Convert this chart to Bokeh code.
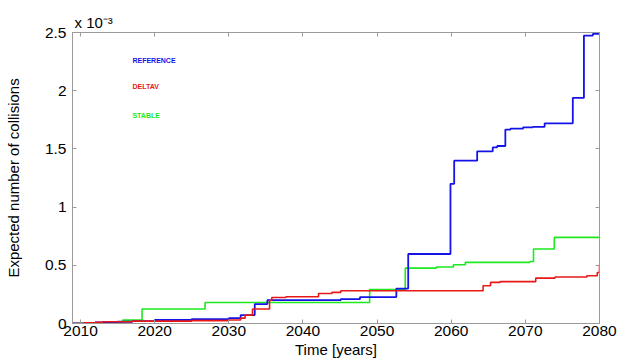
from bokeh.plotting import figure
from bokeh.models import LinearAxis, Label, FixedTicker, Range1d
from bokeh.embed import file_html
from bokeh.resources import INLINE

# ---- data (values in units of 1e-3) ----
ref_years = [2008.9, 2012.0, 2015.0, 2017.0, 2020.0, 2025.0, 2030.0, 2031.6, 2033.5, 2035.2,
             2045.1, 2047.7, 2052.6, 2054.2, 2059.9, 2060.4, 2063.5, 2065.6, 2066.2, 2067.3,
             2068.0, 2069.7, 2071.0, 2072.6, 2076.4, 2077.9, 2079.1, 2080.0]
ref_vals = [0.0, 0.01, 0.015, 0.02, 0.03, 0.038, 0.046, 0.072, 0.167, 0.20,
            0.21, 0.227, 0.30, 0.597, 1.20, 1.399, 1.479, 1.513, 1.525, 1.666,
            1.675, 1.685, 1.69, 1.72, 1.938, 2.474, 2.488, 2.49]

dv_years = [2008.9, 2010.5, 2012.0, 2013.0, 2017.0, 2025.0, 2030.0, 2031.6, 2032.2, 2033.2,
            2035.5, 2035.8, 2037.7, 2042.1, 2043.9, 2045.1, 2064.3, 2065.3, 2066.6, 2071.4,
            2074.0, 2078.3, 2079.7, 2080.0]
dv_vals = [0.0, 0.005, 0.01, 0.015, 0.02, 0.025, 0.03, 0.046, 0.072, 0.124,
           0.20, 0.224, 0.23, 0.258, 0.267, 0.281, 0.324, 0.353, 0.36, 0.39,
           0.40, 0.41, 0.438, 0.505]

st_years = [2008.9, 2012.0, 2013.0, 2015.7, 2018.3, 2026.8, 2049.0, 2053.8, 2058.0, 2060.3,
            2061.9, 2070.6, 2071.1, 2073.9, 2080.0]
st_vals = [0.0, 0.005, 0.01, 0.029, 0.124, 0.18, 0.292, 0.476, 0.485, 0.505,
           0.525, 0.533, 0.64, 0.74, 0.745]

x_ticks = [2010, 2020, 2030, 2040, 2050, 2060, 2070, 2080]
y_ticks = [0, 0.5, 1, 1.5, 2, 2.5]
y_tick_labels = ["0", "0.5", "1", "1.5", "2", "2.5"]
legend_names = ["REFERENCE", "DELTAV", "STABLE"]

BLUE = "#1414e8"
RED = "#e81818"
GREEN = "#1ee81e"
FRAME = "#9a9a9a"
FONT = "Liberation Sans"

p = figure(width=626, height=360, output_backend="svg", toolbar_location=None,
           x_range=Range1d(2008.92, 2080), y_range=Range1d(0, 2.5),
           min_border_left=72, min_border_right=27, min_border_top=32, min_border_bottom=37)
p.outline_line_color = FRAME
p.outline_line_width = 1
p.grid.visible = False
p.background_fill_color = "white"
p.border_fill_color = "white"

p.title.text = "x 10\u207b\u00b3"
p.title.align = "left"
p.title.offset = 2
p.title.text_font = FONT
p.title.text_font_size = "15px"
p.title.text_font_style = "normal"
p.title.text_color = "black"
p.title.standoff = 4

p.step(st_years, st_vals, mode="after", line_color=GREEN, line_width=1.6)
p.step(ref_years, ref_vals, mode="after", line_color=BLUE, line_width=1.8)
p.step(dv_years, dv_vals, mode="after", line_color=RED, line_width=1.6)

def style_axis(ax):
    ax.axis_line_color = FRAME
    ax.major_tick_line_color = FRAME
    ax.major_tick_in = 4
    ax.major_tick_out = 0
    ax.minor_tick_line_color = None
    ax.major_label_text_font = FONT
    ax.major_label_text_font_size = "15.5px"
    ax.major_label_text_color = "black"
    ax.axis_label_text_font = FONT
    ax.axis_label_text_font_style = "normal"
    ax.axis_label_text_font_size = "15px"
    ax.axis_label_text_color = "black"

xa = p.xaxis[0]
xa.ticker = FixedTicker(ticks=x_ticks)
xa.axis_label = "Time [years]"
style_axis(xa)
xa.major_label_standoff = 2
xa.axis_label_standoff = 2

ya = p.yaxis[0]
ya.ticker = FixedTicker(ticks=y_ticks)
ya.major_label_overrides = {t: l for t, l in zip(y_ticks, y_tick_labels)}
ya.axis_label = "Expected number of collisions"
style_axis(ya)
ya.major_label_standoff = 6
ya.axis_label_standoff = 20

top = LinearAxis(ticker=FixedTicker(ticks=x_ticks))
style_axis(top)
top.major_label_text_font_size = "0px"
top.major_label_text_color = None
top.major_label_standoff = 0
p.add_layout(top, "above")

right = LinearAxis(ticker=FixedTicker(ticks=y_ticks))
style_axis(right)
right.major_label_text_font_size = "0px"
right.major_label_text_color = None
right.major_label_standoff = 0
p.add_layout(right, "right")

# legend-like texts
for name, col, yv in zip(legend_names, [BLUE, RED, GREEN], [2.259, 2.035, 1.79]):
    p.add_layout(Label(x=2017.0, y=yv, text=name, text_color=col, text_font=FONT,
                       text_font_size="7px", text_font_style="bold", text_baseline="middle"))

open("out.html", "w").write(file_html(p, INLINE))
